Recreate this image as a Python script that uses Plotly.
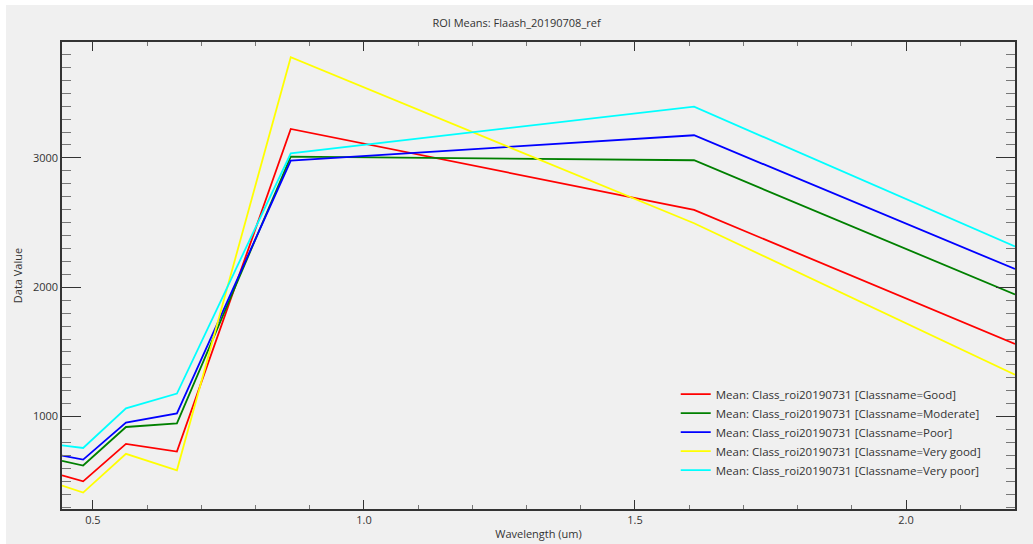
import plotly.graph_objects as go

wavelength = [0.443, 0.482, 0.561, 0.655, 0.865, 1.609, 2.201]

class_names = ["Good", "Moderate", "Poor", "Very good", "Very poor"]
good = [547, 500, 789, 730, 3224, 2598, 1562]
moderate = [658, 622, 920, 948, 3010, 2982, 1944]
poor = [699, 668, 954, 1025, 2979, 3175, 2141]
very_good = [467, 413, 712, 585, 3778, 2495, 1324]
very_poor = [778, 758, 1064, 1178, 3036, 3396, 2315]
series = [good, moderate, poor, very_good, very_poor]
colors = ["#ff0000", "#008000", "#0000ff", "#ffff00", "#00ffff"]

x_range = [0.443, 2.201]
y_range = [286, 3896]

FONT = "Open Sans"
TXT = "#333333"

fig = go.Figure()
for name, vals, col in zip(class_names, series, colors):
    fig.add_trace(go.Scatter(
        x=wavelength, y=vals, mode="lines",
        name=f"Mean: Class_roi20190731 [Classname={name}]",
        line=dict(color=col, width=1.8),
    ))

fig.update_layout(
    width=1033, height=544,
    margin=dict(l=62, r=18, t=42, b=35, autoexpand=False),
    paper_bgcolor="white",
    plot_bgcolor="#f0f0f0",
    font=dict(family=FONT, size=11, color=TXT),
    title=dict(text="ROI Means: Flaash_20190708_ref", x=0.5, xanchor="center",
               y=1 - 23 / 544, yanchor="middle", font=dict(size=11, color=TXT)),
    showlegend=True,
    legend=dict(x=0.644, y=0.277, xanchor="left", yanchor="top",
                bgcolor="rgba(0,0,0,0)", font=dict(size=11.5, color=TXT),
                tracegroupgap=0),
    shapes=[dict(type="rect", xref="paper", yref="paper",
                 x0=(6 - 62) / 953, x1=1.2, y0=-0.2, y1=(509.5 - 5) / 467.5,
                 fillcolor="#f0f0f0", line=dict(width=0), layer="below")],
)

fig.update_xaxes(
    range=x_range, showgrid=False, zeroline=False, automargin=False,
    showline=True, linecolor="#333333", linewidth=1.5, mirror="allticks",
    ticks="inside", ticklen=9, tickcolor="#333333", tickwidth=1,
    tick0=0.5, dtick=0.5, tickformat=".1f",
    minor=dict(ticks="inside", dtick=0.1, tick0=0.5, ticklen=4, tickcolor="#777777", showgrid=False),
    title=dict(text="Wavelength (um)", font=dict(size=11, color=TXT), standoff=4),
    tickfont=dict(size=11, color=TXT),
)
fig.update_yaxes(
    range=y_range, showgrid=False, zeroline=False, automargin=False,
    showline=True, linecolor="#333333", linewidth=1.5, mirror="allticks",
    ticks="inside", ticklen=19, tickcolor="#333333", tickwidth=1,
    tick0=0, dtick=1000,
    minor=dict(ticks="inside", dtick=100, tick0=0, ticklen=9, tickcolor="#777777", showgrid=False),
    title=dict(text="Data Value", font=dict(size=11, color=TXT), standoff=8),
    tickfont=dict(size=11, color=TXT),
)

fig.write_html("out.html", config={"displayModeBar": False},
               post_script="document.body.style.margin='0';document.body.style.overflow='hidden';")
